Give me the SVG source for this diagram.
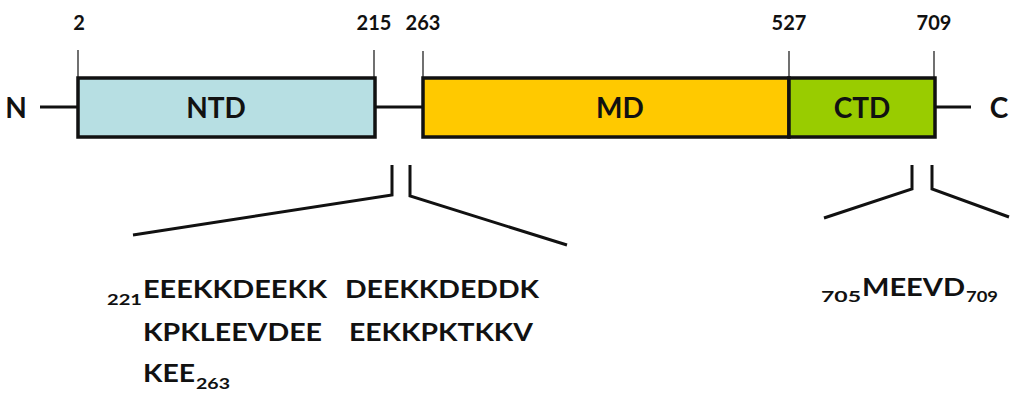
<svg xmlns="http://www.w3.org/2000/svg" width="1018" height="418" viewBox="0 0 1018 418">
<style>
text{font-family:Lato,"Open Sans","Liberation Sans",sans-serif;font-weight:bold;fill:#111}
.num{font-size:20px;text-anchor:middle}
.dom{font-size:28px;text-anchor:middle}
.seq{font-size:24px}
.sub{font-size:15px}
.box{stroke:#111;stroke-width:3.5}
.tick{stroke:#111;stroke-width:1.2;fill:none}
.ln{stroke:#111;stroke-width:3;fill:none}
</style>
<rect width="1018" height="418" fill="#fff"/>
<g id="connectors">
<line class="ln" x1="40" y1="107" x2="78" y2="107"/>
<line class="ln" x1="375" y1="107" x2="423" y2="107"/>
<line class="ln" x1="935" y1="107" x2="971" y2="107"/>
<line class="tick" x1="78" y1="50" x2="78" y2="78"/>
<line class="tick" x1="374" y1="50" x2="374" y2="78"/>
<line class="tick" x1="423" y1="51" x2="423" y2="78"/>
<line class="tick" x1="789" y1="51" x2="789" y2="78"/>
<line class="tick" x1="934" y1="51" x2="934" y2="78"/>
<polyline class="ln" points="392,165 392,195 133,235"/>
<polyline class="ln" points="410,165 410,196 567,245"/>
<polyline class="ln" points="912,165 912,189 824,218"/>
<polyline class="ln" points="932,165 932,189 1009,217"/>
</g>
<g id="N"><text class="dom" x="16" y="118">N</text></g>
<g id="C"><text class="dom" x="999" y="118">C</text></g>
<g id="NTD">
<rect class="box" x="78" y="78" width="297" height="59" fill="#b7dfe3"/>
<text class="dom" x="216" y="118">NTD</text>
</g>
<g id="MD">
<rect class="box" x="423" y="78" width="366" height="59" fill="#ffc900"/>
<text class="dom" x="620" y="118">MD</text>
</g>
<g id="CTD">
<rect class="box" x="789" y="78" width="146" height="59" fill="#99cc00"/>
<text class="dom" x="862" y="118">CTD</text>
</g>
<g id="labels">
<text class="num" x="79" y="30">2</text>
<text class="num" x="374" y="30">215</text>
<text class="num" x="423" y="30">263</text>
<text class="num" x="789" y="30">527</text>
<text class="num" x="934" y="30">709</text>
</g>
<g id="seq1">
<text class="sub" x="107" y="305" textLength="35" lengthAdjust="spacingAndGlyphs">221</text>
<text class="seq" x="143" y="298" textLength="184" lengthAdjust="spacingAndGlyphs">EEEKKDEEKK</text>
<text class="seq" x="345" y="298" textLength="194" lengthAdjust="spacingAndGlyphs">DEEKKDEDDK</text>
<text class="seq" x="143" y="341" textLength="179" lengthAdjust="spacingAndGlyphs">KPKLEEVDEE</text>
<text class="seq" x="349" y="341" textLength="184" lengthAdjust="spacingAndGlyphs">EEKKPKTKKV</text>
<text class="seq" x="143" y="382" textLength="52" lengthAdjust="spacingAndGlyphs">KEE</text>
<text class="sub" x="196" y="389" textLength="34" lengthAdjust="spacingAndGlyphs">263</text>
</g>
<g id="seq2">
<text class="sub" x="821" y="302" textLength="40" lengthAdjust="spacingAndGlyphs">705</text>
<text class="seq" x="862" y="296" textLength="103" lengthAdjust="spacingAndGlyphs">MEEVD</text>
<text class="sub" x="966" y="302" textLength="32" lengthAdjust="spacingAndGlyphs">709</text>
</g>
</svg>
